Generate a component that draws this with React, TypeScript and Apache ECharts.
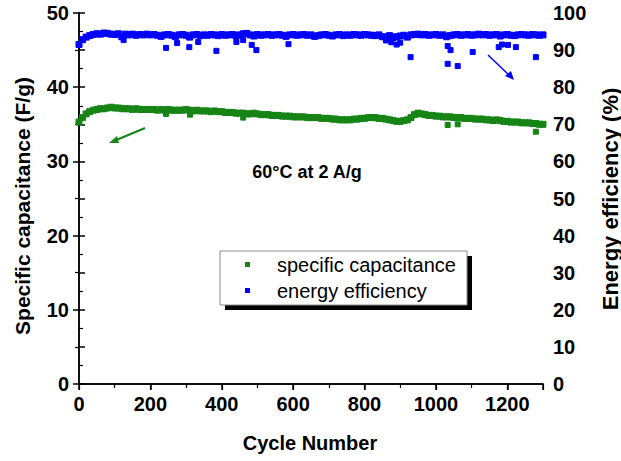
import React, { useEffect, useRef } from "react";
import * as echarts from "echarts";

// ---- data ----
const CYCLES = [
  0, 10, 20, 30, 40, 50, 60, 70, 80, 90, 100, 110, 120, 130, 140, 150, 160, 170, 180, 190,
  200, 210, 220, 230, 240, 250, 260, 270, 280, 290, 300, 310, 320, 330, 340, 350, 360, 370, 380, 390,
  400, 410, 420, 430, 440, 450, 460, 470, 480, 490, 500, 510, 520, 530, 540, 550, 560, 570, 580, 590,
  600, 610, 620, 630, 640, 650, 660, 670, 680, 690, 700, 710, 720, 730, 740, 750, 760, 770, 780, 790,
  800, 810, 820, 830, 840, 850, 860, 870, 880, 890, 900, 910, 920, 930, 940, 950, 960, 970, 980, 990,
  1000, 1010, 1020, 1030, 1040, 1050, 1060, 1070, 1080, 1090, 1100, 1110, 1120, 1130, 1140, 1150, 1160, 1170, 1180, 1190,
  1200, 1210, 1220, 1230, 1240, 1250, 1260, 1270, 1280, 1290, 1300,
];

const CAPACITANCE = [
  35.3, 35.9, 36.4, 36.7, 36.9, 37.0, 37.1, 37.1, 37.2, 37.3, 37.2, 37.2, 37.1, 37.1, 37.1, 37.0, 37.1, 37.0, 37.0, 37.0,
  37.0, 37.0, 36.9, 37.0, 36.9, 37.0, 36.9, 36.9, 36.9, 36.9, 37.0, 36.9, 36.8, 36.9, 36.8, 36.8, 36.8, 36.7, 36.8, 36.7,
  36.7, 36.6, 36.6, 36.6, 36.5, 36.5, 36.5, 36.4, 36.4, 36.5, 36.4, 36.3, 36.3, 36.3, 36.2, 36.2, 36.2, 36.1, 36.1, 36.1,
  36.0, 36.0, 36.0, 36.0, 35.9, 35.9, 35.9, 35.9, 35.8, 35.8, 35.8, 35.7, 35.7, 35.6, 35.6, 35.6, 35.6, 35.7, 35.7, 35.8,
  35.8, 35.9, 35.9, 35.9, 35.8, 35.8, 35.7, 35.6, 35.5, 35.4, 35.4, 35.5, 35.6, 35.9, 36.3, 36.5, 36.4, 36.3, 36.2, 36.2,
  36.1, 36.1, 36.0, 36.0, 36.0, 35.9, 35.9, 35.9, 35.8, 35.8, 35.8, 35.7, 35.7, 35.7, 35.6, 35.6, 35.5, 35.6, 35.5, 35.4,
  35.4, 35.3, 35.3, 35.3, 35.2, 35.2, 35.2, 35.1, 35.1, 35.0, 35.0,
];

const EFFICIENCY = [
  91.5, 92.8, 93.5, 93.9, 94.2, 94.4, 94.3, 94.6, 94.5, 94.3, 94.2, 94.4, 93.6, 94.3, 94.1, 94.3, 94.0, 94.2, 94.1, 94.3,
  94.1, 94.2, 94.0, 93.7, 94.1, 94.2, 94.0, 93.6, 94.1, 94.2, 94.0, 93.5, 94.1, 94.2, 93.9, 94.1, 94.0, 94.2, 94.1, 93.9,
  94.2, 94.0, 94.1, 94.2, 93.8, 94.1, 94.4, 94.5, 94.1, 93.8, 94.2, 94.0, 94.1, 94.2, 94.0, 94.1, 94.2, 94.0, 93.7, 94.1,
  94.2, 94.0, 94.1, 94.2, 94.0, 94.1, 93.7, 93.9, 94.1, 94.2, 94.0, 93.8, 94.1, 94.2, 93.9, 94.1, 94.0, 94.2, 94.1, 94.0,
  94.2, 94.1, 94.0, 93.9, 94.1, 93.6, 93.5, 93.9, 93.4, 93.6, 93.8, 94.0, 93.5, 94.1, 94.2, 94.3, 94.1, 94.2, 94.0, 94.1,
  94.2, 94.0, 94.1, 93.6, 93.9, 94.1, 94.2, 94.0, 94.1, 94.2, 94.0, 94.1, 94.3, 94.1, 94.2, 94.0, 94.1, 94.2, 93.8, 94.1,
  94.2, 94.0, 93.9, 94.1, 94.2, 94.1, 94.0, 94.2, 94.1, 94.0, 94.1,
];

// scattered points off the main bands
const CAP_OUTLIER_CYCLES = [244, 311, 460, 1033, 1061, 1280];
const CAP_OUTLIER_VALUES = [36.4, 36.3, 35.9, 34.9, 35.0, 34.0];

const EFF_OUTLIER_CYCLES = [
  125, 244, 275, 309, 334, 385, 441, 460, 484, 497, 587, 860, 875, 890, 900, 929,
  1033, 1041, 1033, 1061, 1103, 1176, 1185, 1202, 1224, 1280,
];
const EFF_OUTLIER_VALUES = [
  92.7, 90.6, 91.9, 90.8, 92.2, 89.8, 92.2, 92.7, 91.4, 90.0, 91.6, 92.6, 92.1, 91.5, 92.0, 88.1,
  91.1, 90.0, 86.3, 85.7, 89.5, 90.8, 91.5, 91.4, 90.8, 88.1,
];

const X_TICKS = { min: 0, max: 1300, interval: 200 };
const Y_LEFT = { min: 0, max: 50, interval: 10 };
const Y_RIGHT = { min: 0, max: 100, interval: 10 };

const SERIES_NAMES = ["specific capacitance", "energy efficiency"];
const ANNOTATION = "60°C at 2 A/g";

const GREEN = "#168516";
const BLUE = "#0000ff";
const FONT = "Arial, 'Liberation Sans', sans-serif";

export default function App() {
  const ref = useRef<HTMLDivElement>(null);

  useEffect(() => {
    if (!ref.current) return;
    const chart = echarts.init(ref.current, undefined, { renderer: "svg" });

    const capData = CYCLES.map((c, i) => [c, CAPACITANCE[i]]).concat(
      CAP_OUTLIER_CYCLES.map((c, i) => [c, CAP_OUTLIER_VALUES[i]])
    );
    const effData = CYCLES.map((c, i) => [c, EFFICIENCY[i]]).concat(
      EFF_OUTLIER_CYCLES.map((c, i) => [c, EFF_OUTLIER_VALUES[i]])
    );
    const sizeFn = (_v: any, p: any) => (p.dataIndex < CYCLES.length ? 6 : 5);

    const axisLabel = { color: "#000", fontSize: 20, fontWeight: "bold" as const, fontFamily: FONT };
    const axisLine = { show: true, lineStyle: { color: "#000", width: 1.5 } };

    chart.setOption({
      animation: false,
      backgroundColor: "#fff",
      textStyle: { fontFamily: FONT },
      grid: { left: 79, right: 78, top: 13, bottom: 77, containLabel: false },
      xAxis: [
        {
          type: "value",
          position: "bottom",
          ...X_TICKS,
          axisLine,
          axisTick: { show: true, inside: false, length: 6, lineStyle: { color: "#000", width: 1.5 } },
          minorTick: { show: true, splitNumber: 2, length: 4, lineStyle: { color: "#000", width: 1.2 } },
          splitLine: { show: false },
          axisLabel: { ...axisLabel, margin: 10, showMaxLabel: false, formatter: (v: number) => String(v) },
        },
        {
          type: "value",
          position: "top",
          ...X_TICKS,
          axisLine,
          axisTick: { show: true, inside: true, length: 6, lineStyle: { color: "#000", width: 1.2 } },
          minorTick: { show: true, splitNumber: 2, length: 3, lineStyle: { color: "#000", width: 1 } },
          splitLine: { show: false },
          axisLabel: { show: false },
        },
      ],
      yAxis: [
        {
          type: "value",
          position: "left",
          ...Y_LEFT,
          axisLine,
          axisTick: { show: true, inside: false, length: 6, lineStyle: { color: "#000", width: 1.5 } },
          minorTick: { show: true, splitNumber: 2, length: 4, lineStyle: { color: "#000", width: 1.2 } },
          splitLine: { show: false },
          axisLabel: { ...axisLabel, margin: 10 },
        },
        {
          type: "value",
          position: "right",
          ...Y_RIGHT,
          axisLine,
          axisTick: { show: true, inside: false, length: 6, lineStyle: { color: "#000", width: 1.5 } },
          minorTick: { show: true, splitNumber: 2, length: 4, lineStyle: { color: "#000", width: 1.2 } },
          splitLine: { show: false },
          axisLabel: { ...axisLabel, margin: 10 },
        },
      ],
      series: [
        {
          name: SERIES_NAMES[0],
          type: "scatter",
          xAxisIndex: 0,
          yAxisIndex: 0,
          symbol: "rect",
          symbolSize: sizeFn,
          itemStyle: { color: GREEN, opacity: 1, borderColor: GREEN, borderWidth: 1 },
          data: capData,
        },
        {
          name: SERIES_NAMES[1],
          type: "scatter",
          xAxisIndex: 0,
          yAxisIndex: 1,
          symbol: "rect",
          symbolSize: sizeFn,
          itemStyle: { color: BLUE, opacity: 1, borderColor: BLUE, borderWidth: 1 },
          data: effData,
        },
      ],
      graphic: [
        {
          type: "text",
          x: 22,
          y: 206,
          rotation: Math.PI / 2,
          style: {
            text: "Specific capacitance (F/g)",
            fontSize: 21,
            fontWeight: "bold",
            fontFamily: FONT,
            fill: "#000",
            align: "center",
            verticalAlign: "middle",
          },
        },
        {
          type: "text",
          x: 610,
          y: 199,
          rotation: Math.PI / 2,
          style: {
            text: "Energy efficiency (%)",
            fontSize: 22,
            fontWeight: "bold",
            fontFamily: FONT,
            fill: "#000",
            align: "center",
            verticalAlign: "middle",
          },
        },
        {
          type: "text",
          x: 310,
          y: 443,
          style: {
            text: "Cycle Number",
            fontSize: 20,
            fontWeight: "bold",
            fontFamily: FONT,
            fill: "#000",
            align: "center",
            verticalAlign: "middle",
          },
        },
        {
          type: "text",
          x: 307,
          y: 172,
          style: {
            text: ANNOTATION,
            fontSize: 18,
            fontWeight: "bold",
            fontFamily: FONT,
            fill: "#000",
            align: "center",
            verticalAlign: "middle",
          },
        },
        // legend box with shadow
        { type: "rect", shape: { x: 225, y: 256, width: 247, height: 54 }, style: { fill: "#000" } },
        {
          type: "rect",
          shape: { x: 220, y: 251, width: 247, height: 54 },
          style: { fill: "#fff", stroke: "#8a8a8a", lineWidth: 1 },
        },
        { type: "rect", shape: { x: 245, y: 262, width: 5, height: 5 }, style: { fill: GREEN } },
        { type: "rect", shape: { x: 245, y: 288, width: 5, height: 5 }, style: { fill: BLUE } },
        {
          type: "text",
          x: 277,
          y: 265,
          style: {
            text: SERIES_NAMES[0],
            fontSize: 20,
            fontFamily: FONT,
            fill: "#000",
            align: "left",
            verticalAlign: "middle",
          },
        },
        {
          type: "text",
          x: 277,
          y: 291,
          style: {
            text: SERIES_NAMES[1],
            fontSize: 20,
            fontFamily: FONT,
            fill: "#000",
            align: "left",
            verticalAlign: "middle",
          },
        },
        // arrows
        { type: "line", shape: { x1: 145, y1: 128, x2: 114, y2: 141 }, style: { stroke: GREEN, lineWidth: 2 } },
        { type: "polygon", shape: { points: [[109, 143], [117, 136], [119, 143]] }, style: { fill: GREEN } },
        { type: "line", shape: { x1: 488, y1: 55, x2: 510, y2: 76 }, style: { stroke: BLUE, lineWidth: 1.5 } },
        { type: "polygon", shape: { points: [[514, 80], [505, 76], [511, 71]] }, style: { fill: BLUE } },
      ],
    });

    return () => chart.dispose();
  }, []);

  return <div ref={ref} style={{ width: 621, height: 461, position: "absolute", left: 0, top: 0 }} />;
}
